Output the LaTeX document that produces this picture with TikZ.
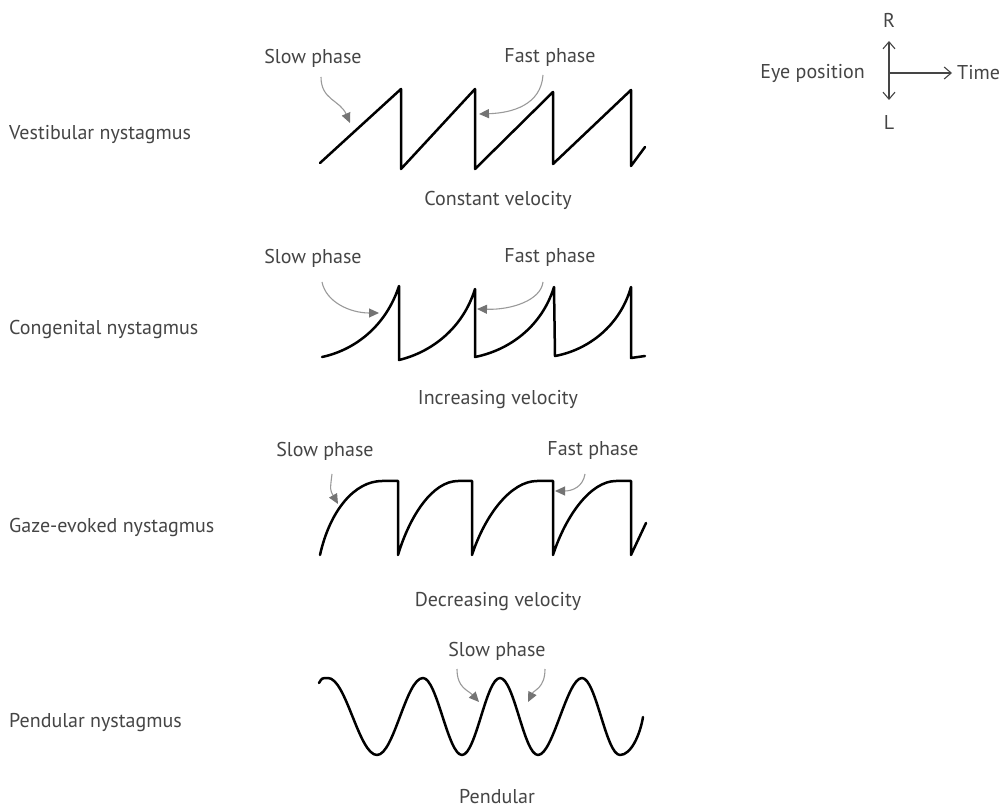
\documentclass[tikz,border=0pt]{standalone}
\usepackage{fontspec}
\setmainfont{PT Sans}
\usetikzlibrary{arrows.meta}
\definecolor{txt}{HTML}{454545}
\definecolor{arr}{HTML}{9A9A9A}
\definecolor{arrhead}{HTML}{747474}
\tikzset{
  lbl/.style={font=\fontsize{20}{22}\selectfont, text=txt, inner sep=0pt},
  wave/.style={line width=2.5pt, black, line join=round, line cap=round},
  pointer/.style={draw=arr, line width=1.1pt, -{Triangle[length=10pt,width=9pt,color=arrhead]}},
  axis/.style={draw=txt, line width=1.1pt},
}
\begin{document}
\begin{tikzpicture}[x=1pt,y=-1pt]
\useasboundingbox (0,0) rectangle (1005,810);
\fill[white] (0,0) rectangle (1005,810);

% left labels
\node[lbl, anchor=west] (t1) at (9,135) {Vestibular nystagmus};
\node[lbl, anchor=west] (t2) at (9,330) {Congenital nystagmus};
\node[lbl, anchor=west] (t3) at (9,527) {Gaze-evoked nystagmus};
\node[lbl, anchor=west] (t4) at (9,723) {Pendular nystagmus};

% bottom captions
\node[lbl] (c1) at (498,200) {Constant velocity};
\node[lbl] (c2) at (498,400) {Increasing velocity};
\node[lbl] (c3) at (498,602) {Decreasing velocity};
\node[lbl] (c4) at (497,797) {Pendular};

% phase labels
\node[lbl] (s1) at (313,58) {Slow phase};
\node[lbl] (f1) at (550,58) {Fast phase};
\node[lbl] (s2) at (313,258) {Slow phase};
\node[lbl] (f2) at (550,258) {Fast phase};
\node[lbl] (s3) at (325,451) {Slow phase};
\node[lbl] (f3) at (593,451) {Fast phase};
\node[lbl] (s4) at (497,651) {Slow phase};

% waveform 1: constant velocity
\draw[wave] (320,163) -- (401,89) -- (401,169) -- (475,89) -- (475,169)
  -- (553,92) -- (553,164) -- (631,90) -- (631,166) -- (645,147);

% waveform 2: increasing velocity
\draw[wave] (322,357) .. controls (355,350) and (386,326) .. (399,286) -- (399,360)
  .. controls (432,352) and (463,328) .. (475,289) -- (475,357)
  .. controls (510,350) and (542,326) .. (554,287) -- (555,356)
  .. controls (588,350) and (620,326) .. (631,287) -- (631,358) -- (645,356);

% waveform 3: decreasing velocity
\draw[wave] (320,555) .. controls (330,510) and (355,481) .. (382,481) -- (398,481) -- (398,555)
  .. controls (410,515) and (433,481) .. (458,481) -- (472,481) -- (472,555)
  .. controls (485,515) and (511,481) .. (537,481) -- (553,481) -- (553,555)
  .. controls (566,515) and (591,481) .. (616,481) -- (631,481) -- (631,555) -- (646,523);

% waveform 4: pendular
\draw[wave] (319,683) .. controls (322,678) .. (328,678)
  .. controls (346,678) and (359,755) .. (377,755)
  .. controls (394,755) and (406,678) .. (423,678)
  .. controls (437,678) and (448,755) .. (462,755)
  .. controls (476,755) and (486,678) .. (500,678)
  .. controls (514,678) and (524,755) .. (538,755)
  .. controls (553,755) and (567,678) .. (582,678)
  .. controls (596,678) and (606,755) .. (620,755)
  .. controls (631,755) and (640,735) .. (643,717);

% pointer arrows
\coordinate (s1a) at (321,77);  \coordinate (s1b) at (350,123);
\coordinate (f1a) at (543,75);  \coordinate (f1b) at (479,114);
\coordinate (s2a) at (322,282); \coordinate (s2b) at (379,313);
\coordinate (f2a) at (543,282); \coordinate (f2b) at (477,309);
\coordinate (s3a) at (332,474); \coordinate (s3b) at (338,504);
\coordinate (f3a) at (585,474); \coordinate (f3b) at (555,491);
\coordinate (s4a) at (457,669); \coordinate (s4b) at (479,702);
\coordinate (s4c) at (545,669); \coordinate (s4d) at (528,702);

\draw[pointer] (s1a) .. controls (321,100) and (340,100) .. (s1b);
\draw[pointer] (f1a) .. controls (541,105) and (512,113) .. (f1b);
\draw[pointer] (s2a) .. controls (326,302) and (350,313) .. (s2b);
\draw[pointer] (f2a) .. controls (541,300) and (512,310) .. (f2b);
\draw[pointer] (s3a) .. controls (330,490) .. (s3b);
\draw[pointer] (f3a) .. controls (583,487) and (572,491) .. (f3b);
\draw[pointer] (s4a) .. controls (457,688) and (468,690) .. (s4b);
\draw[pointer] (s4c) .. controls (545,688) and (534,690) .. (s4d);

% legend axes
\coordinate (o) at (889,73);
\coordinate (up) at (889,41);
\coordinate (dn) at (889,100);
\coordinate (rt) at (952,73);
\draw[axis, {Straight Barb[length=7pt,width=12pt]}-{Straight Barb[length=7pt,width=12pt]}] (up) -- (dn);
\draw[axis, -{Straight Barb[length=7pt,width=12pt]}] (o) -- (rt);
\node[lbl] (R) at (889,20) {R};
\node[lbl] (L) at (889,123) {L};
\node[lbl, anchor=east] (eye) at (865,73) {Eye position};
\node[lbl, anchor=west] (time) at (957,73) {Time};
\end{tikzpicture}
\end{document}
